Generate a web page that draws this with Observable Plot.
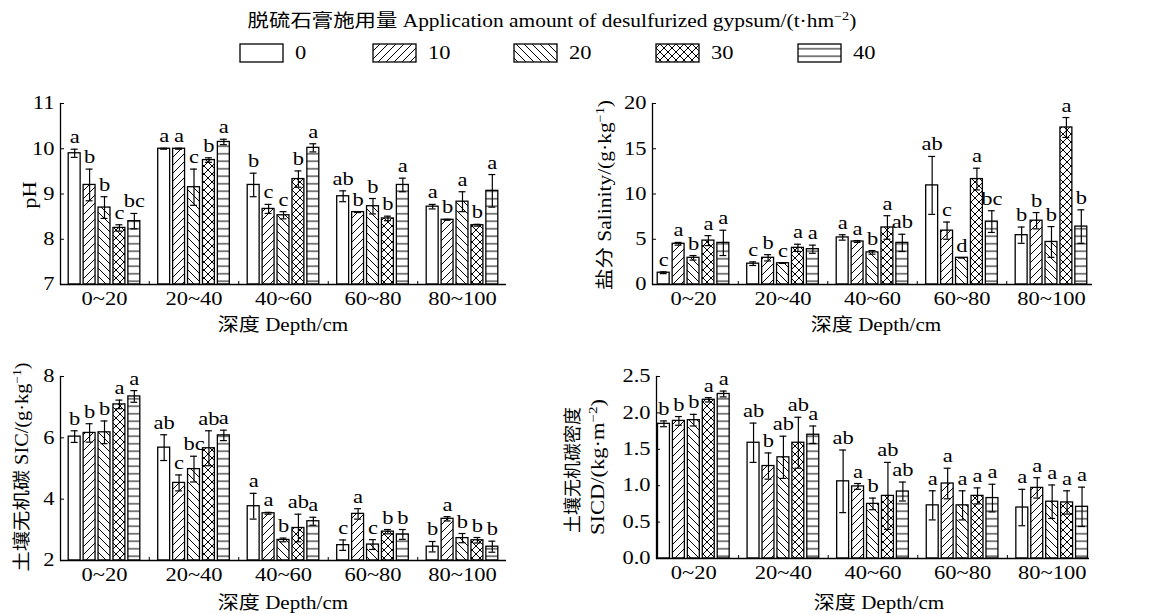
<!DOCTYPE html>
<html><head><meta charset="utf-8">
<script src="https://cdn.jsdelivr.net/npm/d3@7"></script>
<script src="https://cdn.jsdelivr.net/npm/@observablehq/plot@0.6"></script>
<style>
body{margin:0;background:#fff;}
#root{position:relative;width:1149px;height:614px;overflow:hidden;font-family:"Liberation Serif","Noto Sans CJK SC",serif;}
.panel{position:absolute;}
#overlay{position:absolute;left:0;top:0;pointer-events:none;}
</style></head><body><div id="root"></div>
<script>
// ---------- data ----------
const depths = ["0~20","20~40","40~60","60~80","80~100"];
const amounts = ["0","10","20","30","40"];

const phMean = [[9.90,9.20,8.70,8.25,8.40],[10.00,10.00,9.15,9.75,10.15],[9.20,8.67,8.53,9.33,10.02],[8.95,8.60,8.73,8.46,9.20],[8.72,8.43,8.83,8.31,9.07]];
const phSd   = [[0.09,0.35,0.24,0.07,0.17],[0.01,0.01,0.40,0.05,0.06],[0.26,0.10,0.08,0.18,0.09],[0.12,0.01,0.17,0.05,0.15],[0.05,0.01,0.22,0.02,0.36]];
const phLetters = [["a","b","b","c","bc"],["a","a","c","b","a"],["b","c","c","b","a"],["ab","b","b","b","a"],["a","b","a","b","a"]];
const phTicks = [7,8,9,10,11];

const salMean = [[1.3,4.5,2.95,4.85,4.6],[2.3,2.95,2.35,4.05,3.9],[5.2,4.75,3.55,6.3,4.6],[10.95,5.95,2.95,11.65,6.95],[5.45,7.05,4.7,17.35,6.4]];
const salSd   = [[0.1,0.15,0.25,0.55,1.4],[0.2,0.35,0.02,0.4,0.45],[0.3,0.1,0.2,1.3,0.95],[3.2,0.95,0.02,1.2,1.2],[0.9,0.9,1.7,1.1,1.85]];
const salLetters = [["c","a","b","a","a"],["c","b","c","a","a"],["a","a","b","a","ab"],["ab","c","d","a","bc"],["b","b","b","a","b"]];
const salTicks = [0,5,10,15,20];

const sicMean = [[6.04,6.16,6.18,7.09,7.35],[5.68,4.53,4.98,5.66,6.08],[3.77,3.54,2.67,3.06,3.28],[2.50,3.52,2.52,2.94,2.85],[2.45,3.36,2.73,2.66,2.45]];
const sicSd   = [[0.19,0.30,0.37,0.14,0.19],[0.42,0.26,0.42,0.57,0.17],[0.42,0.03,0.06,0.45,0.13],[0.17,0.17,0.16,0.07,0.16],[0.17,0.07,0.15,0.09,0.18]];
const sicLetters = [["b","b","b","a","a"],["ab","c","bc","ab","a"],["a","a","b","ab","a"],["c","a","c","b","b"],["b","a","b","b","b"]];
const sicTicks = [2,4,6,8];

const sicdMean = [[1.85,1.89,1.90,2.18,2.26],[1.59,1.27,1.39,1.59,1.70],[1.06,0.99,0.75,0.86,0.92],[0.73,1.03,0.73,0.86,0.83],[0.70,0.97,0.78,0.77,0.71]];
const sicdSd   = [[0.04,0.06,0.08,0.03,0.04],[0.27,0.18,0.29,0.35,0.12],[0.43,0.04,0.08,0.46,0.13],[0.20,0.21,0.20,0.11,0.19],[0.25,0.14,0.23,0.16,0.27]];
const sicdLetters = [["b","b","b","a","a"],["ab","b","ab","ab","a"],["ab","a","b","ab","ab"],["a","a","a","a","a"],["a","a","a","a","a"]];
const sicdTicks = [0,0.5,1.0,1.5,2.0,2.5];

const FONT = '"Liberation Serif","Noto Sans CJK SC",serif';
const STRETCH = 1.25;
const root = document.getElementById("root");

// widen Latin glyphs along the text direction (the reference face is wide)
function stretch(node){
  node.querySelectorAll("text").forEach(t=>{
    const len = t.getComputedTextLength();
    if (!len) return;
    const s = t.textContent;
    const cjk = (s.match(/[\u3000-\u9fff\uff00-\uffef]/g) || []).length;
    const fs = parseFloat(getComputedStyle(t).fontSize) || 18;
    const cjkLen = Math.min(len, cjk*fs);
    const target = cjkLen + (len - cjkLen)*STRETCH;
    t.setAttribute("textLength", target);
    t.setAttribute("lengthAdjust", "spacingAndGlyphs");
  });
}

// ---------- overlay: patterns, legend, titles ----------
const W = 1149, H = 614;
const ov = d3.select(root).append("svg").attr("id","overlay").attr("width",W).attr("height",H)
  .style("font-family",FONT).style("font-size","18px");
const defs = ov.append("defs");
function pat(id, w, h, d){
  const p = defs.append("pattern").attr("id",id).attr("patternUnits","userSpaceOnUse").attr("width",w).attr("height",h);
  p.append("rect").attr("width",w).attr("height",h).attr("fill","#fff");
  if (d) p.append("path").attr("d",d).attr("stroke","#000").attr("stroke-width",1).attr("fill","none");
}
pat("pat0",8,8,null);
pat("pat10",8,8,"M0,8L8,0M-2,2L2,-2M6,10L10,6");
pat("pat20",8,8,"M0,0L8,8M-2,6L2,10M6,-2L10,2");
pat("pat30",8,8,"M0,8L8,0M-2,2L2,-2M6,10L10,6M0,0L8,8M-2,6L2,10M6,-2L10,2");
pat("pat40",8,7.5,"M0,3.75L8,3.75");

function supText(sel, parts){
  sel.append("tspan").text(parts[0]);
  sel.append("tspan").attr("dy",-7).attr("font-size",12).text(parts[1]);
  sel.append("tspan").attr("dy",7).text(parts[2]);
}
// legend
supText(ov.append("text").attr("x",552).attr("y",27).attr("text-anchor","middle"),
  ["脱硫石膏施用量 Application amount of desulfurized gypsum/(t·hm","−2",")"]);
const legX = [240,373,514,656,798];
amounts.forEach((a,i)=>{
  ov.append("rect").attr("x",legX[i]).attr("y",44).attr("width",43).attr("height",18)
    .attr("fill",`url(#pat${a})`).attr("stroke","#000").attr("stroke-width",1.3);
  ov.append("text").attr("x",legX[i]+55).attr("y",59).text(a);
});
// x titles
[[283,331],[876,331],[283,609],[879,609]].forEach(([x,y])=>{
  ov.append("text").attr("x",x).attr("y",y).attr("text-anchor","middle").text("深度 Depth/cm");
});
// y titles
ov.append("text").attr("transform","translate(36,195) rotate(-90)").attr("text-anchor","middle").text("pH");
supText(ov.append("text").attr("transform","translate(611,195) rotate(-90)").attr("text-anchor","middle"),
  ["盐分 Salinity/(g·kg","−1",")"]);
supText(ov.append("text").attr("transform","translate(28,467) rotate(-90)").attr("text-anchor","middle"),
  ["土壤无机碳 SIC/(g·kg","−1",")"]);
ov.append("text").attr("transform","translate(579,470) rotate(-90)").attr("text-anchor","middle").text("土壤无机碳密度");
supText(ov.append("text").attr("transform","translate(604,467) rotate(-90)").attr("text-anchor","middle"),
  ["SICD/(kg·m","−2",")"]);
stretch(ov.node());

// ---------- panels ----------
function panel(cfg){
  const rows = [];
  depths.forEach((d,i)=>amounts.forEach((a,j)=>rows.push({
    key: d+"|"+a, amount: a, mean: cfg.mean[i][j], sd: cfg.sd[i][j], letter: cfg.letters[i][j]
  })));
  const domain = [];
  depths.forEach((d,i)=>{ if (i>0) domain.push("gap"+i); amounts.forEach(a=>domain.push(d+"|"+a)); });
  const gapKeys = domain.filter(k=>k.startsWith("gap"));
  const centerKeys = depths.map(d=>d+"|20");
  const y0 = cfg.ticks[0], y1 = cfg.ticks[cfg.ticks.length-1];
  const plot = Plot.plot({
    width: cfg.width, height: cfg.height,
    marginLeft: cfg.ml, marginRight: cfg.mr, marginTop: cfg.mt, marginBottom: cfg.mb,
    style: {fontFamily: FONT, fontSize: "18px", color: "#000", background: "transparent", overflow: "visible"},
    x: {domain, paddingInner: 0.2, paddingOuter: cfg.po, round: false, axis: null},
    y: {domain: [y0, y1], axis: null},
    color: {type: "identity"},
    marks: [
      Plot.barY(rows, {x: "key", y1: y0, y2: "mean", fill: d=>`url(#pat${d.amount})`, stroke: "#000", strokeWidth: 1.3}),
      Plot.ruleX(rows, {x: "key", y1: d=>d.mean-d.sd, y2: d=>d.mean+d.sd, stroke: "#000", strokeWidth: 1.2}),
      Plot.tickY(rows, {x: "key", y: d=>d.mean+d.sd, insetLeft: 2.5, insetRight: 2.5, stroke: "#000", strokeWidth: 1.2}),
      Plot.tickY(rows, {x: "key", y: d=>d.mean-d.sd, insetLeft: 2.5, insetRight: 2.5, stroke: "#000", strokeWidth: 1.2}),
      Plot.text(rows, {x: "key", y: d=>d.mean+d.sd, text: "letter", lineAnchor: "bottom", dy: -6, fontSize: 18, fill: "#000"}),
      Plot.axisY({ticks: cfg.ticks, tickSize: 0, tickPadding: 6, tickFormat: cfg.fmt, fontSize: 18, label: null}),
      Plot.axisY({ticks: cfg.ticks, tickSize: -4, tickFormat: ()=>"", label: null}),
      Plot.axisX({ticks: centerKeys, tickSize: 0, tickPadding: 8, tickFormat: k=>k.split("|")[0], fontSize: 18, label: null}),
      Plot.axisX({ticks: gapKeys, tickSize: -3, tickFormat: ()=>"", label: null}),
      Plot.ruleY([y0], {stroke: "#000", strokeWidth: 1.3}),
      Plot.frame({anchor: "left", stroke: "#000", strokeWidth: 1.3})
    ]
  });
  plot.classList.add("panel");
  plot.style.left = cfg.left + "px";
  plot.style.top = cfg.top + "px";
  root.appendChild(plot);
  stretch(plot);
}

panel({mean: phMean, sd: phSd, letters: phLetters, ticks: phTicks, fmt: d3.format("d"),
  left: 0, top: 90, width: 575, height: 250, ml: 60, mr: 69, mt: 13, mb: 56, po: 0.55});
panel({mean: salMean, sd: salSd, letters: salLetters, ticks: salTicks, fmt: d3.format("d"),
  left: 555, top: 90, width: 594, height: 250, ml: 97, mr: 57, mt: 13, mb: 56, po: 0.35});
panel({mean: sicMean, sd: sicSd, letters: sicLetters, ticks: sicTicks, fmt: d3.format("d"),
  left: 0, top: 350, width: 575, height: 264, ml: 60, mr: 69, mt: 26, mb: 54, po: 0.55});
panel({mean: sicdMean, sd: sicdSd, letters: sicdLetters, ticks: sicdTicks, fmt: d3.format(".1f"),
  left: 555, top: 350, width: 594, height: 264, ml: 101, mr: 60, mt: 26, mb: 56, po: 0.1});
</script></body></html>
